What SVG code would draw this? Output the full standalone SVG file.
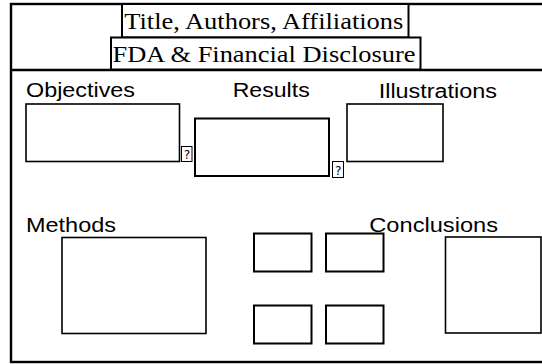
<svg xmlns="http://www.w3.org/2000/svg" width="542" height="364" viewBox="0 0 542 364">
<style>
.box{fill:#fff;stroke:#000;stroke-width:2}
.thin{fill:#fff;stroke:#000;stroke-width:1.6}
.serif{font-family:"Liberation Serif","Times New Roman",serif;font-size:24px;fill:#000}
.sans{font-family:"Liberation Sans",Arial,sans-serif;font-size:20px;fill:#000}
.q{fill:#fff;stroke:#000;stroke-width:1}
.qt{font-family:"DejaVu Sans Mono","Liberation Mono",monospace;font-size:12px;fill:#000}
</style>
<rect width="542" height="364" fill="#fff"/>
<g id="frame">
<rect x="11" y="4" width="540" height="358" fill="none" stroke="#000" stroke-width="2.4"/>
<line x1="11" y1="70" x2="542" y2="70" stroke="#000" stroke-width="2.4"/>
</g>
<g id="title">
<rect class="box" x="122" y="4" width="286.5" height="33.5"/>
<text class="serif" x="124.3" y="28.5" textLength="279" lengthAdjust="spacingAndGlyphs">Title, Authors, Affiliations</text>
</g>
<g id="disclosure">
<rect class="box" x="111" y="37.5" width="309.5" height="32"/>
<text class="serif" x="112.5" y="61.5" textLength="303" lengthAdjust="spacingAndGlyphs">FDA &amp; Financial Disclosure</text>
</g>
<g id="objectives">
<text class="sans" x="26" y="97" textLength="109" lengthAdjust="spacingAndGlyphs">Objectives</text>
<rect class="thin" x="26" y="104" width="153.5" height="57.5"/>
<rect class="q" x="181.5" y="146.5" width="10.5" height="15"/>
<text class="qt" x="183.3" y="159">?</text>
</g>
<g id="results">
<text class="sans" x="232.7" y="97.3" textLength="77" lengthAdjust="spacingAndGlyphs">Results</text>
<rect class="box" x="195" y="118.5" width="134" height="57.5"/>
<rect class="q" x="332.5" y="161.5" width="11" height="16"/>
<text class="qt" x="334.5" y="174.5">?</text>
</g>
<g id="illustrations">
<text class="sans" x="378.7" y="97.5" textLength="118.3" lengthAdjust="spacingAndGlyphs">Illustrations</text>
<rect class="thin" x="347" y="104" width="96" height="57.5"/>
</g>
<g id="methods">
<text class="sans" x="26" y="231.7" textLength="90" lengthAdjust="spacingAndGlyphs">Methods</text>
<rect class="thin" x="62" y="237.5" width="144" height="96"/>
</g>
<g id="figures">
<rect class="box" x="254" y="233.5" width="57.5" height="38"/>
<rect class="box" x="326" y="233.5" width="57.5" height="38"/>
<rect class="box" x="254" y="305.5" width="57.5" height="38"/>
<rect class="box" x="326" y="305.5" width="57.5" height="38"/>
</g>
<g id="conclusions">
<rect class="thin" x="445.5" y="237" width="95.5" height="96"/>
<text class="sans" x="369.3" y="231.7" textLength="128.7" lengthAdjust="spacingAndGlyphs">Conclusions</text>
</g>
<g id="connectors"></g>
</svg>
